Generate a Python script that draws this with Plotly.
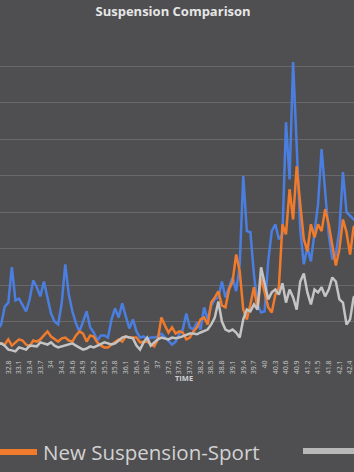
import plotly.graph_objects as go

# time axis: one sample every 0.1 s
time = [round(32.5 + 0.1 * i, 1) for i in range(102)]

old_susp = [0.78, 0.92, 1.41, 1.52, 2.49, 1.58, 1.63, 1.44, 1.28, 1.61,
            2.13, 1.94, 1.69, 2.10, 1.66, 1.22, 1.00, 0.92, 1.50, 2.57,
            1.74, 1.28, 0.95, 0.73, 1.00, 1.28, 0.84, 0.70, 0.48, 0.62,
            0.62, 0.56, 1.06, 1.36, 1.11, 1.50, 1.14, 0.81, 1.06, 0.73,
            0.56, 0.59, 0.51, 0.56, 0.56, 0.59, 0.67, 0.56, 0.45, 0.37,
            0.45, 0.65, 0.78, 1.22, 0.84, 0.78, 0.98, 0.78, 1.39, 1.06,
            1.44, 1.61, 1.66, 2.10, 1.66, 1.94, 2.21, 1.83, 2.57, 4.99,
            3.48, 3.45, 2.29, 1.47, 1.25, 1.28, 2.65, 3.48, 3.67, 3.26,
            3.39, 6.47, 4.90, 8.12, 6.00, 3.53, 2.57, 3.04, 2.65, 3.39,
            4.22, 5.73, 4.63, 3.39, 2.71, 2.84, 3.53, 5.10, 4.00, 3.89,
            3.80, 3.75]

new_sport = [0.37, 0.40, 0.37, 0.51, 0.34, 0.43, 0.51, 0.48, 0.37, 0.32,
             0.48, 0.45, 0.51, 0.62, 0.73, 0.59, 0.51, 0.45, 0.54, 0.56,
             0.48, 0.45, 0.62, 0.73, 0.67, 0.45, 0.62, 0.59, 0.43, 0.34,
             0.29, 0.29, 0.37, 0.43, 0.51, 0.45, 0.59, 0.56, 0.56, 0.56,
             0.43, 0.43, 0.45, 0.37, 0.32, 0.51, 1.11, 0.89, 0.70, 0.84,
             0.67, 0.73, 0.70, 0.51, 0.56, 0.73, 0.84, 1.06, 1.11, 0.92,
             1.52, 1.66, 1.83, 1.44, 1.39, 1.88, 2.10, 2.84, 2.38, 1.33,
             1.06, 1.47, 1.94, 1.33, 2.21, 1.80, 1.39, 1.25, 1.74, 1.94,
             3.67, 3.39, 4.63, 3.80, 5.26, 4.22, 3.26, 2.93, 3.67, 3.31,
             3.67, 3.48, 4.08, 3.67, 3.12, 2.54, 2.98, 3.80, 3.45, 2.84,
             3.59, 3.67]

new_comfort = [0.37, 0.40, 0.34, 0.23, 0.21, 0.18, 0.29, 0.26, 0.23, 0.34,
               0.34, 0.32, 0.43, 0.40, 0.37, 0.43, 0.34, 0.29, 0.32, 0.34,
               0.37, 0.40, 0.34, 0.29, 0.23, 0.26, 0.32, 0.29, 0.34, 0.37,
               0.43, 0.40, 0.37, 0.40, 0.48, 0.56, 0.59, 0.56, 0.54, 0.34,
               0.23, 0.43, 0.56, 0.34, 0.43, 0.51, 0.56, 0.54, 0.51, 0.56,
               0.54, 0.56, 0.59, 0.62, 0.67, 0.67, 0.65, 0.70, 0.73, 0.78,
               0.92, 1.11, 1.55, 1.00, 0.78, 0.73, 0.78, 0.70, 0.56, 1.06,
               1.33, 1.28, 1.47, 1.33, 2.49, 2.02, 1.61, 1.80, 1.88, 1.74,
               2.05, 1.52, 1.88, 1.66, 1.33, 2.10, 2.32, 1.80, 1.47, 1.88,
               1.80, 1.94, 1.69, 1.88, 2.21, 2.10, 1.61, 1.52, 0.92, 1.06,
               1.66, 1.74]

tick_vals = [round(32.8 + 0.3 * k, 1) for k in range(33)]
tick_text = [("%g" % v) for v in tick_vals]

BG = "#4f4f51"
BLUE = "#4a7ee0"
ORANGE = "#f07b2c"
GRAY = "#c4c4c4"

fig = go.Figure()
fig.add_trace(go.Scatter(x=time, y=old_susp, mode="lines", name="Old Suspension",
                         line=dict(color=BLUE, width=2.5)))
fig.add_trace(go.Scatter(x=time, y=new_sport, mode="lines", name="New Suspension-Sport",
                         line=dict(color=ORANGE, width=2.5)))
fig.add_trace(go.Scatter(x=time, y=new_comfort, mode="lines", name="New Suspension-Comfort",
                         line=dict(color=GRAY, width=2.5)))

fig.update_layout(
    width=354, height=472,
    margin=dict(l=0, r=0, t=30, b=114, autoexpand=False),
    paper_bgcolor=BG, plot_bgcolor=BG,
    showlegend=False,
    font=dict(family="Open Sans", color="#d0d0d0"),
    title=dict(text="<b>Suspension Comparison</b>", x=0.489, xanchor="center",
               y=1 - 11 / 472, yanchor="middle",
               font=dict(size=13, color="#e6e6e6", family="Open Sans")),
    xaxis=dict(range=[32.567, 42.51], tickmode="array", tickvals=tick_vals,
               ticktext=tick_text, tickangle=-90, showgrid=False, zeroline=False,
               tickfont=dict(size=7, color="#c8c8c8"), ticks="", showline=False,
               ticklabeloverflow="allow"),
    yaxis=dict(range=[0, 9], dtick=1, showgrid=True, gridcolor="#69696b",
               gridwidth=1, zeroline=False, showticklabels=False, ticks=""),
)

fig.add_annotation(text="<b>TIME</b>", xref="paper", yref="paper",
                   x=184 / 354, y=(358 - 385) / 328, showarrow=False,
                   font=dict(size=7.5, color="#d0d0d0"))

# legend (partially visible)
fig.add_shape(type="line", xref="paper", yref="paper",
              x0=-0.02, x1=37 / 354, y0=(358 - 452) / 328, y1=(358 - 452) / 328,
              line=dict(color=ORANGE, width=6))
fig.add_annotation(text="New Suspension-Sport", xref="paper", yref="paper",
                   x=41 / 354, y=(358 - 452) / 328, xanchor="left", yanchor="middle",
                   showarrow=False, font=dict(size=20.5, color="#d2d2d2"))
fig.add_shape(type="line", xref="paper", yref="paper",
              x0=303 / 354, x1=1.05, y0=(358 - 451) / 328, y1=(358 - 451) / 328,
              line=dict(color="#b8b8b8", width=6))

fig.write_html("out.html")
